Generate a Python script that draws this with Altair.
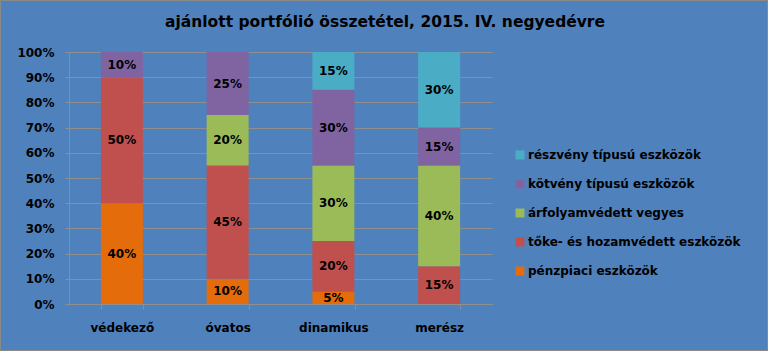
import altair as alt
import pandas as pd

categories = ["védekező", "óvatos", "dinamikus", "merész"]
series = [
    "pénzpiaci eszközök",
    "tőke- és hozamvédett eszközök",
    "árfolyamvédett vegyes",
    "kötvény típusú eszközök",
    "részvény típusú eszközök",
]
colors = ["#E46C0A", "#C0504D", "#9BBB59", "#8064A2", "#4BACC6"]

penzpiaci = [40, 10, 5, 0]
toke = [50, 45, 20, 15]
arfolyam = [0, 20, 30, 40]
kotveny = [10, 25, 30, 15]
reszveny = [0, 0, 15, 30]

title_text = "ajánlott portfólió összetétel, 2015. IV. negyedévre"
y_ticks = [0, 10, 20, 30, 40, 50, 60, 70, 80, 90, 100]

values = [penzpiaci, toke, arfolyam, kotveny, reszveny]
rows = []
for si, (s, vals) in enumerate(zip(series, values)):
    for ci, c in enumerate(categories):
        if vals[ci] > 0:
            rows.append({"cat": c, "series": s, "ord": si, "v": vals[ci] / 100})
df = pd.DataFrame(rows)

FONT = "DejaVu Sans"
legend_order = list(reversed(series))
legend_colors = list(reversed(colors))

base = alt.Chart(df).transform_stack(
    stack="v", groupby=["cat"], sort=[alt.SortField("ord", order="ascending")], as_=["y0", "y1"]
).transform_calculate(mid="(datum.y0 + datum.y1) / 2")

x_scale = alt.Scale(paddingInner=0.6, paddingOuter=0.3)
y_scale = alt.Scale(domain=[0, 1], nice=False)

x_axis = alt.Axis(labelAngle=0, labelFont=FONT, labelFontWeight="bold", labelFontSize=12,
                  labelColor="black", labelPadding=13, tickSize=5, tickBand="extent",
                  domainColor="#8f8f8f", tickColor="#8f8f8f", title=None)
y_axis = alt.Axis(format="%", values=[t / 100 for t in y_ticks], labelFont=FONT,
                  labelFontWeight="bold", labelFontSize=12, labelColor="black",
                  labelPadding=11, tickSize=4, grid=True, gridColor="#8f8f8f",
                  domainColor="#8f8f8f", tickColor="#8f8f8f", labelOverlap=False, title=None)

bars = base.mark_bar(width=42).encode(
    x=alt.X("cat:N", sort=categories, scale=x_scale, axis=x_axis),
    y=alt.Y("y0:Q", scale=y_scale, axis=y_axis),
    y2="y1:Q",
    color=alt.Color("series:N", scale=alt.Scale(domain=legend_order, range=legend_colors),
                    legend=alt.Legend(title=None, orient="none", legendX=445, legendY=97,
                                      symbolType="square", symbolSize=81, symbolStrokeWidth=0,
                                      labelFont=FONT, labelFontWeight="bold", labelFontSize=12,
                                      labelColor="black", labelOffset=2, rowPadding=17,
                                      labelLimit=300)),
)

labels = base.mark_text(font=FONT, fontWeight="bold", fontSize=12, color="black").encode(
    x=alt.X("cat:N", sort=categories, scale=x_scale, axis=x_axis),
    y=alt.Y("mid:Q", scale=y_scale, axis=y_axis),
    text=alt.Text("v:Q", format=".0%"),
)

deco = alt.Chart(pd.DataFrame({"t": [title_text]}))

border = deco.mark_rect(fill=None, stroke="#8a8a8a", strokeWidth=1).encode(
    x=alt.value(-68.5), x2=alt.value(698.5), y=alt.value(-51.5), y2=alt.value(298.5)
)

title = deco.mark_text(font=FONT, fontSize=15.5, fontWeight="bold", color="black",
                       align="center", baseline="alphabetic").encode(
    x=alt.value(316), y=alt.value(-25), text="t:N"
)

chart = alt.layer(bars, labels, border, title).properties(
    width=423, height=252,
    padding={"left": 69, "top": 52, "right": 276, "bottom": 47},
    autosize=alt.AutoSizeParams(type="none"),
    background="#4F81BD",
).configure_view(stroke=None)

chart.save("out.html", embed_options={"renderer": "svg", "actions": False})
